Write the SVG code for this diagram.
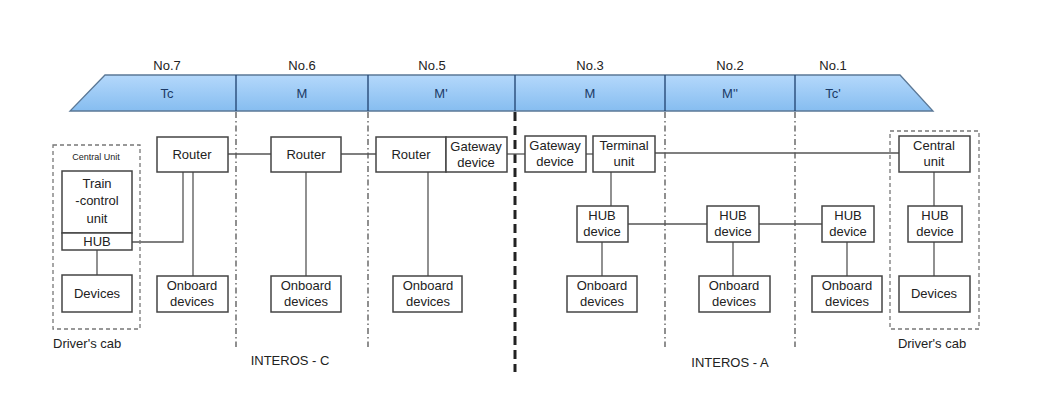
<svg xmlns="http://www.w3.org/2000/svg" width="1055" height="404" viewBox="0 0 1055 404">
<defs>
<linearGradient id="band" x1="0" y1="0" x2="0" y2="1">
<stop offset="0" stop-color="#b4d8fb"/>
<stop offset="1" stop-color="#86bdf0"/>
</linearGradient>
</defs>
<style>
text{font-family:"Liberation Sans",Arial,sans-serif;fill:#222;text-anchor:middle}
.n{font-size:13px}
.car{font-size:13px;fill:#1c3a66}
.lbl{font-size:13px}
.sm{font-size:9px}
.box{fill:#fff;stroke:#444;stroke-width:1.5}
.cab{fill:none;stroke:#777;stroke-width:1.3;stroke-dasharray:4 3}
.div{stroke:#555;stroke-width:1.3;stroke-dasharray:6 3 1.5 3;fill:none}
.bold{stroke:#222;stroke-width:3;stroke-dasharray:9 5;fill:none}
.ln{stroke:#555;stroke-width:1.3;fill:none}
.sep{stroke:#274a78;stroke-width:1.4}
</style>
<rect width="1055" height="404" fill="#fff"/>

<g id="train">
<polygon points="105,75 900,75 933,111 70,111" fill="url(#band)" stroke="#5b7896" stroke-width="1.3"/>
<line class="sep" x1="236" y1="75" x2="236" y2="111"/>
<line class="sep" x1="368" y1="75" x2="368" y2="111"/>
<line class="sep" x1="515" y1="75" x2="515" y2="111"/>
<line class="sep" x1="665" y1="75" x2="665" y2="111"/>
<line class="sep" x1="795" y1="75" x2="795" y2="111"/>
<text class="n" x="167" y="70">No.7</text>
<text class="n" x="302" y="70">No.6</text>
<text class="n" x="432" y="70">No.5</text>
<text class="n" x="590" y="70">No.3</text>
<text class="n" x="730" y="70">No.2</text>
<text class="n" x="833" y="70">No.1</text>
<text class="car" x="167" y="98">Tc</text>
<text class="car" x="302" y="98">M</text>
<text class="car" x="441" y="98">M'</text>
<text class="car" x="590" y="98">M</text>
<text class="car" x="730" y="98">M''</text>
<text class="car" x="833" y="98">Tc'</text>
</g>

<g id="dividers">
<line class="div" x1="236" y1="112" x2="236" y2="347"/>
<line class="div" x1="368" y1="112" x2="368" y2="347"/>
<line class="bold" x1="515" y1="112" x2="515" y2="372"/>
<line class="div" x1="665" y1="112" x2="665" y2="347"/>
<line class="div" x1="795" y1="112" x2="795" y2="347"/>
</g>

<g id="connectors">
<polyline class="ln" points="132,242 183,242 183,172"/>
<line class="ln" x1="97" y1="250" x2="97" y2="275"/>
<line class="ln" x1="193" y1="172" x2="193" y2="276"/>
<line class="ln" x1="228" y1="154" x2="271" y2="154"/>
<line class="ln" x1="306" y1="172" x2="306" y2="276"/>
<line class="ln" x1="341" y1="154" x2="376" y2="154"/>
<line class="ln" x1="428" y1="172" x2="428" y2="276"/>
<line class="ln" x1="507" y1="154" x2="525" y2="154"/>
<line class="ln" x1="586" y1="154" x2="593" y2="154"/>
<line class="ln" x1="655" y1="153" x2="899" y2="153"/>
<line class="ln" x1="611" y1="172" x2="611" y2="206"/>
<line class="ln" x1="602" y1="242" x2="602" y2="276"/>
<line class="ln" x1="628" y1="224" x2="707" y2="224"/>
<line class="ln" x1="733" y1="242" x2="733" y2="276"/>
<line class="ln" x1="759" y1="224" x2="822" y2="224"/>
<line class="ln" x1="847" y1="242" x2="847" y2="276"/>
<line class="ln" x1="934" y1="172" x2="934" y2="206"/>
<line class="ln" x1="934" y1="242" x2="934" y2="276"/>
</g>

<g id="cab-left">
<rect class="cab" x="53" y="145" width="87" height="184"/>
<text class="sm" x="96" y="160">Central Unit</text>
<text class="lbl" x="53" y="348" style="text-anchor:start">Driver's cab</text>
</g>
<g id="train-control-unit">
<rect class="box" x="62" y="171" width="70" height="62"/>
<text class="lbl" x="97" y="188">Train</text>
<text class="lbl" x="97" y="205">-control</text>
<text class="lbl" x="97" y="223">unit</text>
</g>
<g id="hub-left">
<rect class="box" x="62" y="233" width="70" height="17"/>
<text class="lbl" x="97" y="246">HUB</text>
</g>
<g id="devices-left">
<rect class="box" x="62" y="275" width="70" height="37"/>
<text class="lbl" x="97" y="298">Devices</text>
</g>
<g id="router-7">
<rect class="box" x="157" y="137" width="71" height="35"/>
<text class="lbl" x="192" y="159">Router</text>
</g>
<g id="onboard-7">
<rect class="box" x="157" y="276" width="71" height="36"/>
<text class="lbl" x="192" y="290">Onboard</text>
<text class="lbl" x="192" y="306">devices</text>
</g>

<g id="router-6">
<rect class="box" x="271" y="137" width="70" height="35"/>
<text class="lbl" x="306" y="159">Router</text>
</g>
<g id="onboard-6">
<rect class="box" x="271" y="276" width="70" height="36"/>
<text class="lbl" x="306" y="290">Onboard</text>
<text class="lbl" x="306" y="306">devices</text>
</g>
<text class="lbl" x="290" y="365">INTEROS - C</text>

<g id="router-5">
<rect class="box" x="376" y="137" width="70" height="35"/>
<text class="lbl" x="411" y="159">Router</text>
</g>
<g id="gateway-5">
<rect class="box" x="446" y="137" width="61" height="35"/>
<text class="lbl" x="476" y="151">Gateway</text>
<text class="lbl" x="476" y="167">device</text>
</g>
<g id="onboard-5">
<rect class="box" x="393" y="276" width="69" height="36"/>
<text class="lbl" x="428" y="290">Onboard</text>
<text class="lbl" x="428" y="306">devices</text>
</g>

<g id="gateway-3">
<rect class="box" x="525" y="136" width="61" height="36"/>
<text class="lbl" x="555" y="150">Gateway</text>
<text class="lbl" x="555" y="166">device</text>
</g>
<g id="terminal-3">
<rect class="box" x="593" y="136" width="62" height="36"/>
<text class="lbl" x="624" y="150">Terminal</text>
<text class="lbl" x="624" y="166">unit</text>
</g>
<g id="hub-3">
<rect class="box" x="577" y="206" width="51" height="36"/>
<text class="lbl" x="602" y="220">HUB</text>
<text class="lbl" x="602" y="236">device</text>
</g>
<g id="onboard-3">
<rect class="box" x="567" y="276" width="70" height="36"/>
<text class="lbl" x="602" y="290">Onboard</text>
<text class="lbl" x="602" y="306">devices</text>
</g>

<g id="hub-2">
<rect class="box" x="707" y="206" width="52" height="36"/>
<text class="lbl" x="733" y="220">HUB</text>
<text class="lbl" x="733" y="236">device</text>
</g>
<g id="onboard-2">
<rect class="box" x="699" y="276" width="71" height="36"/>
<text class="lbl" x="734" y="290">Onboard</text>
<text class="lbl" x="734" y="306">devices</text>
</g>
<text class="lbl" x="730" y="367">INTEROS - A</text>

<g id="hub-1">
<rect class="box" x="822" y="206" width="52" height="36"/>
<text class="lbl" x="848" y="220">HUB</text>
<text class="lbl" x="848" y="236">device</text>
</g>
<g id="onboard-1">
<rect class="box" x="812" y="276" width="70" height="36"/>
<text class="lbl" x="847" y="290">Onboard</text>
<text class="lbl" x="847" y="306">devices</text>
</g>

<g id="cab-right">
<rect class="cab" x="890" y="131" width="89" height="198"/>
<text class="lbl" x="932" y="348">Driver's cab</text>
</g>
<g id="central-unit-right">
<rect class="box" x="899" y="136" width="71" height="36"/>
<text class="lbl" x="934" y="150">Central</text>
<text class="lbl" x="934" y="166">unit</text>
</g>
<g id="hub-right">
<rect class="box" x="908" y="206" width="54" height="36"/>
<text class="lbl" x="935" y="220">HUB</text>
<text class="lbl" x="935" y="236">device</text>
</g>
<g id="devices-right">
<rect class="box" x="899" y="276" width="71" height="36"/>
<text class="lbl" x="934" y="298">Devices</text>
</g>
</svg>
